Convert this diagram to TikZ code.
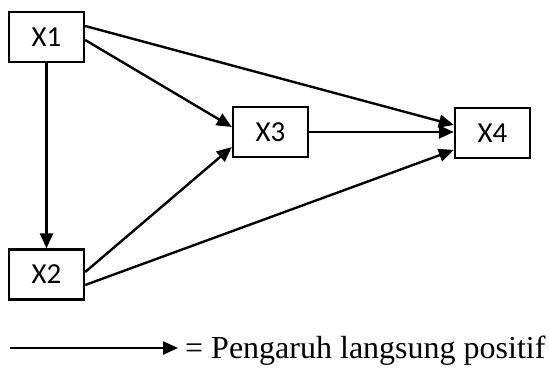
\documentclass[tikz,border=0pt]{standalone}
\usepackage{fontspec}
\setmainfont{Liberation Serif}
\newfontfamily\boxfont{Carlito}
\usetikzlibrary{arrows.meta}
\begin{document}
\begin{tikzpicture}[x=1pt,y=-1pt,
  var/.style={draw,line width=2.4pt,minimum width=75pt,minimum height=50pt,inner sep=0pt,font=\boxfont\fontsize{29}{31}\selectfont},
  conn/.style={line width=2.4pt,-{Triangle[length=15pt,width=13pt]}}]
\useasboundingbox (0,0) rectangle (549,367);
\node[var] (x1) at (46.5,37) {X1};
\node[var] (x2) at (46.5,274.5) {X2};
\node[var] (x3) at (270.5,132) {X3};
\node[var] (x4) at (492.5,133) {X4};
\draw[conn] (x1.south) -- (x2.north);
\draw[conn] (x1.east |- 0,40) -- (x3.west |- 0,127);
\draw[conn] (x1.east |- 0,26) -- (x4.west |- 0,125);
\draw[conn] (x2.east |- 0,272) -- (x3.west |- 0,147);
\draw[conn] (x2.east |- 0,285) -- (x4.west |- 0,150);
\draw[conn] (x3.east) -- (x4.west |- x3.east);
\coordinate (la) at (10,348);
\coordinate (lb) at (178,348);
\draw[conn] (la) -- (lb);
\node[anchor=base west,inner sep=0pt,font=\fontsize{32}{34}\selectfont] (leg) at (185,358) {= Pengaruh langsung positif};
\end{tikzpicture}
\end{document}
